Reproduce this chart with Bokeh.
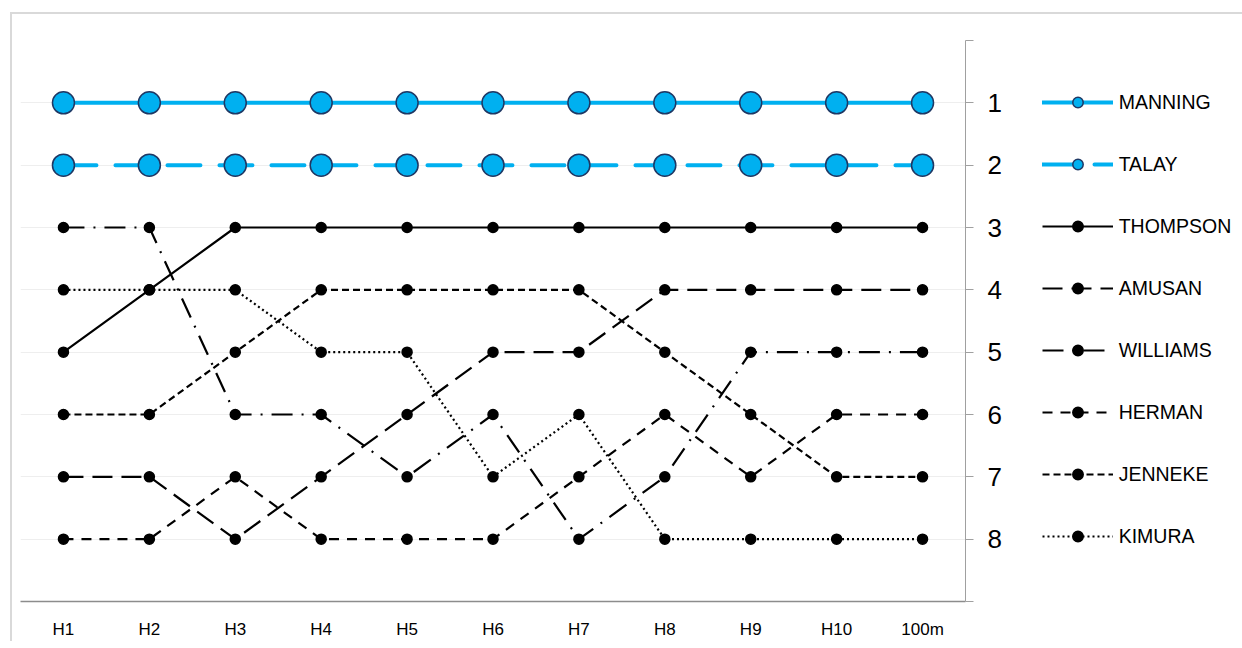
from bokeh.plotting import figure
from bokeh.models import FactorRange, Range1d, Legend, LegendItem, FixedTicker, ColumnDataSource
from bokeh.embed import file_html
from bokeh.resources import INLINE

# ---- data ----
stages = ["H1", "H2", "H3", "H4", "H5", "H6", "H7", "H8", "H9", "H10", "100m"]
manning = [1, 1, 1, 1, 1, 1, 1, 1, 1, 1, 1]
talay = [2, 2, 2, 2, 2, 2, 2, 2, 2, 2, 2]
thompson = [5, 4, 3, 3, 3, 3, 3, 3, 3, 3, 3]
amusan = [7, 7, 8, 7, 6, 5, 5, 4, 4, 4, 4]
williams = [3, 3, 6, 6, 7, 6, 8, 7, 5, 5, 5]
herman = [8, 8, 7, 8, 8, 8, 7, 6, 7, 6, 6]
jenneke = [6, 6, 5, 4, 4, 4, 4, 5, 6, 7, 7]
kimura = [4, 4, 4, 5, 5, 7, 6, 8, 8, 8, 8]
names = ["MANNING", "TALAY", "THOMPSON", "AMUSAN", "WILLIAMS", "HERMAN", "JENNEKE", "KIMURA"]
series = [manning, talay, thompson, amusan, williams, herman, jenneke, kimura]
rank_ticks = [0, 1, 2, 3, 4, 5, 6, 7, 8, 9]

# ---- styles ----
BLUE = "#00b0f0"
NAVY = "#1f3864"
styles = {
    "MANNING": dict(color=BLUE, width=4, dash="solid", cap="round", size=22, fill=BLUE, outline=NAVY),
    "TALAY": dict(color=BLUE, width=4, dash="33 19", cap="round", size=22, fill=BLUE, outline=NAVY),
    "THOMPSON": dict(color="black", width=2.2, dash="solid", cap="butt", size=10, fill="black", outline="black"),
    "AMUSAN": dict(color="black", width=2.2, dash="20 9", cap="butt", size=10, fill="black", outline="black"),
    "WILLIAMS": dict(color="black", width=2.2, dash="21 9 2 9", cap="butt", size=10, fill="black", outline="black"),
    "HERMAN": dict(color="black", width=2.2, dash="10 8", cap="butt", size=10, fill="black", outline="black"),
    "JENNEKE": dict(color="black", width=2.2, dash="7 4", cap="butt", size=10, fill="black", outline="black"),
    "KIMURA": dict(color="black", width=2.2, dash="2 3", cap="butt", size=10, fill="black", outline="black"),
}

FONT = "Liberation Sans"

p = figure(
    x_range=FactorRange(*stages, range_padding=0),
    y_range=Range1d(9, 0),
    frame_width=945, frame_height=561,
    min_border_left=8, min_border_top=26, min_border_right=268, min_border_bottom=37,
    y_axis_location="right",
    output_backend="svg", toolbar_location=None,
)
p.styles = {"position": "relative", "left": "10px", "top": "12px",
            "border-left": "2px solid #d9d9d9", "border-top": "2px solid #d9d9d9"}
p.outline_line_color = None
p.background_fill_color = "white"
p.border_fill_color = "white"

# grid
p.xgrid.grid_line_color = None
p.ygrid.ticker = FixedTicker(ticks=rank_ticks[:-1])
p.ygrid.grid_line_color = "#eeeeee"
p.ygrid.grid_line_width = 1

# y axis (right)
p.yaxis.ticker = FixedTicker(ticks=rank_ticks)
p.yaxis.major_label_overrides = {0: "", 9: ""}
p.yaxis.major_tick_out = 8
p.yaxis.major_tick_in = 0
p.yaxis.minor_tick_line_color = None
p.yaxis.axis_line_color = "#a0a0a0"
p.yaxis.major_tick_line_color = "#a0a0a0"
p.yaxis.major_label_text_font = FONT
p.yaxis.major_label_text_font_size = "26px"
p.yaxis.major_label_text_color = "black"
p.yaxis.major_label_standoff = 14

# x axis
p.xaxis.major_tick_line_color = None
p.xaxis.minor_tick_line_color = None
p.xaxis.axis_line_color = "#8c8c8c"
p.xaxis.axis_line_width = 1.5
p.xaxis.major_label_text_font = FONT
p.xaxis.major_label_text_font_size = "17px"
p.xaxis.major_label_text_color = "black"
p.xaxis.major_label_standoff = 12

items = []
for name, vals in zip(names, series):
    st = styles[name]
    src = ColumnDataSource(dict(x=stages, y=vals))
    ln = p.line("x", "y", source=src, line_color=st["color"], line_width=st["width"],
                line_dash=st["dash"], line_cap=st["cap"])
    sc = p.scatter("x", "y", source=src, marker="circle", size=st["size"],
                   fill_color=st["fill"], line_color=st["outline"], line_width=1.5)
    items.append(LegendItem(label=name, renderers=[ln, sc]))

legend = Legend(items=items, location=(-178, 52), orientation="vertical",
                glyph_width=71, glyph_height=26, label_height=26, spacing=36,
                padding=0, margin=0, label_standoff=6,
                label_text_font=FONT, label_text_font_size="19.5px", label_text_color="black",
                background_fill_alpha=0, border_line_color=None)
p.add_layout(legend, "right")

open("out.html", "w").write(file_html(p, INLINE))
